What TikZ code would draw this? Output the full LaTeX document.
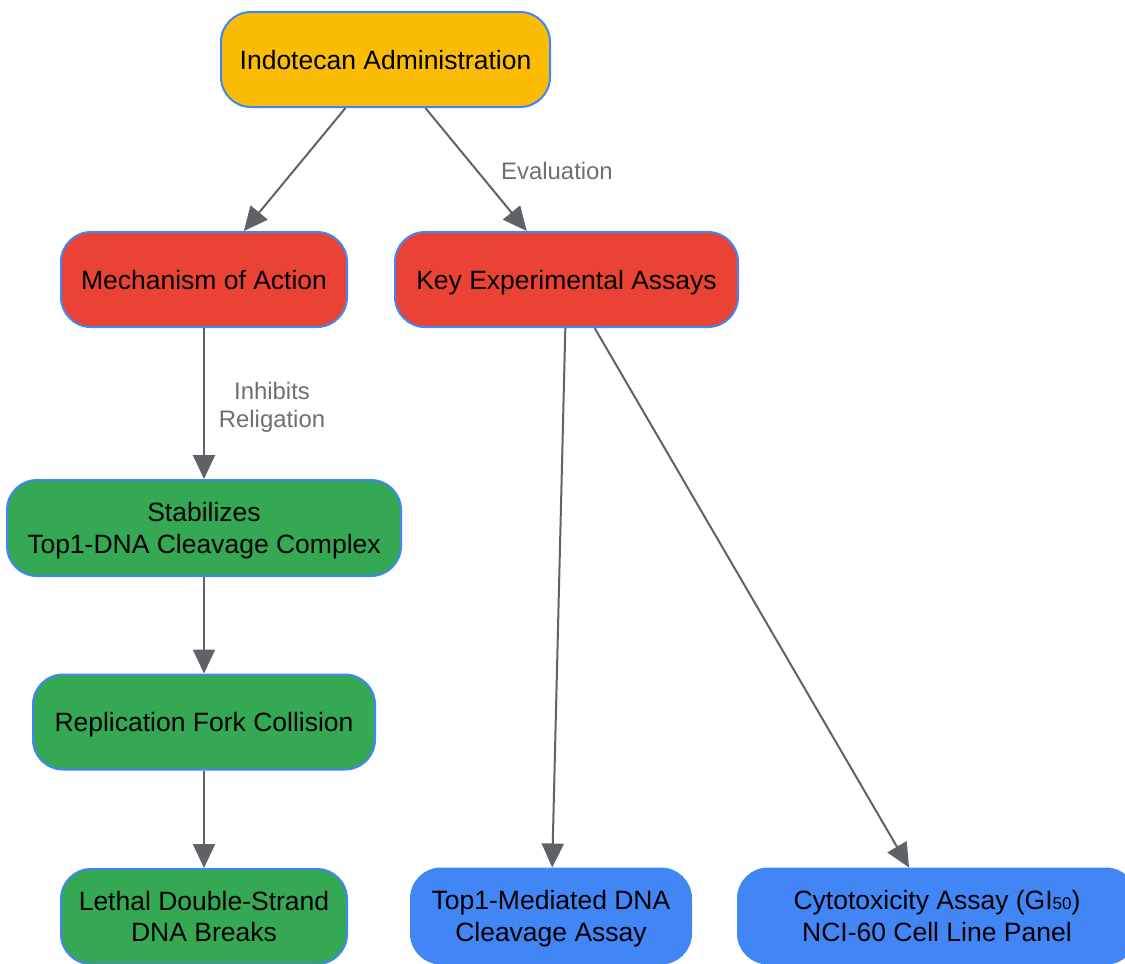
\documentclass[tikz,border=0pt]{standalone}
\usepackage{fontspec}
\setmainfont{Liberation Sans}
\usetikzlibrary{arrows.meta}
\definecolor{gyellow}{HTML}{FBBC05}
\definecolor{gred}{HTML}{EA4335}
\definecolor{ggreen}{HTML}{34A853}
\definecolor{gblue}{HTML}{4285F4}
\definecolor{ggray}{HTML}{5F6368}
\definecolor{glabel}{HTML}{6B6F73}
\begin{document}
\begin{tikzpicture}[x=1pt,y=-1pt,
  box/.style={draw=gblue, line width=2pt, rounded corners=30pt, align=center,
    font=\fontsize{26.5}{31.7}\selectfont, inner sep=0pt, minimum height=95pt, text depth=0pt},
  bluebox/.style={box, fill=gblue, draw=gblue},
  edge/.style={draw=ggray, line width=2pt, -{Triangle[length=24pt,width=22pt]}},
  elabel/.style={text=glabel, font=\fontsize{23.9}{28}\selectfont, align=center}]
\useasboundingbox (0,0) rectangle (1125,964);

\node[box, fill=gyellow, minimum width=329pt] (ind) at (385.5,59.5) {Indotecan Administration};
\node[box, fill=gred, minimum width=286pt] (mech) at (204,279.5) {Mechanism of Action};
\node[box, fill=gred, minimum width=343pt] (key) at (566.5,279.5) {Key Experimental Assays};
\node[box, fill=ggreen, minimum width=394pt, minimum height=96pt] (stab) at (204,528) {Stabilizes\\Top1-DNA Cleavage Complex};
\node[box, fill=ggreen, minimum width=342pt] (rep) at (204,722) {Replication Fork Collision};
\node[box, fill=ggreen, minimum width=286pt] (leth) at (204,916.5) {Lethal Double-Strand\\DNA Breaks};
\node[bluebox, minimum width=280pt] (top) at (551,916) {Top1-Mediated DNA\\Cleavage Assay};
\node[bluebox, minimum width=398pt] (cyto) at (937,916) {Cytotoxicity Assay (GI{\fontsize{17}{17}\selectfont 50})\\NCI-60 Cell Line Panel};

\draw[edge] (ind) -- (mech);
\draw[edge] (ind) -- (key);
\draw[edge] (mech) -- (stab);
\draw[edge] (stab) -- (rep);
\draw[edge] (rep) -- (leth);
\draw[edge] (key) -- (top);
\draw[edge] (key) -- (cyto);

\node[elabel] (evl) at (557,171) {Evaluation};
\node[elabel] (inh) at (272,407) {Inhibits\\Religation};
\end{tikzpicture}
\end{document}
